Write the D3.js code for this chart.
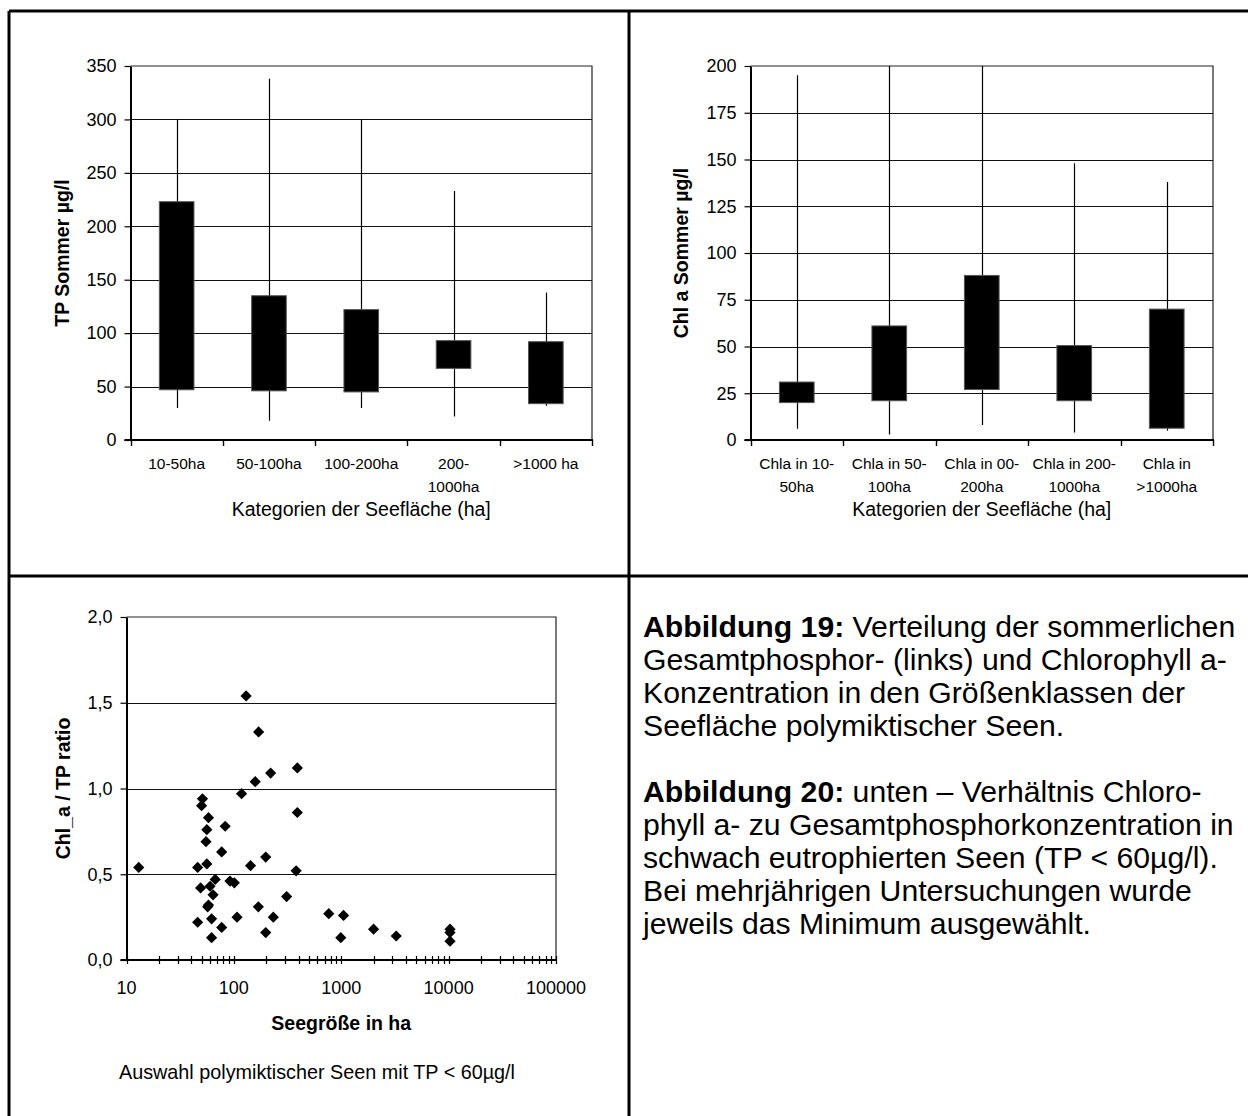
<!DOCTYPE html>
<html>
<head>
<meta charset="utf-8">
<script src="https://cdn.jsdelivr.net/npm/d3@7"></script>
<style>
  html, body { margin: 0; padding: 0; background: #fff; }
  svg { display: block; }
  text { font-family: "Liberation Sans", Arial, Helvetica, sans-serif; fill: #000; }
</style>
</head>
<body>
<svg id="fig" width="1248" height="1116"></svg>
<script>
// ---- Total phosphorus in summer by lake-area class (min / q1 / q3 / max) ----
const tpCategories = [["10-50ha"], ["50-100ha"], ["100-200ha"], ["200-", "1000ha"], [">1000 ha"]];
const tpMin = [30, 18, 30, 22, 32];
const tpQ1  = [47, 46, 45, 67, 34];
const tpQ3  = [223, 135, 122, 93, 92];
const tpMax = [300, 338, 300, 233, 138];
const tpTicks = [0, 50, 100, 150, 200, 250, 300, 350];

// ---- Chlorophyll a in summer by lake-area class ----
const chlCategories = [["Chla in 10-", "50ha"], ["Chla in 50-", "100ha"], ["Chla in 00-", "200ha"],
                       ["Chla in 200-", "1000ha"], ["Chla in", ">1000ha"]];
const chlMin = [6, 3, 8, 4, 5];
const chlQ1  = [20, 21, 27, 21, 6.3];
const chlQ3  = [31, 61, 88, 50.5, 70];
const chlMax = [195, 200, 200, 148, 138];
const chlTicks = [0, 25, 50, 75, 100, 125, 150, 175, 200];

// ---- Chl a / TP ratio against lake size (polymictic lakes, TP < 60 µg/l) ----
const lakeArea = [13, 130, 170, 390, 220, 158, 118, 51, 50, 58, 390, 83, 56, 55, 77, 198, 56, 143, 46, 380,
                  67, 92, 101, 49, 60, 64, 310, 58, 57, 169, 765, 1050, 107, 233, 62, 46, 77, 2000, 10300, 10300,
                  198, 3250, 62, 990, 10300];
const chlTpRatio = [0.54, 1.54, 1.33, 1.12, 1.09, 1.04, 0.97, 0.94, 0.90, 0.83, 0.86, 0.78, 0.76, 0.69, 0.63, 0.60, 0.56, 0.55, 0.54, 0.52,
                    0.47, 0.46, 0.45, 0.42, 0.43, 0.38, 0.37, 0.32, 0.31, 0.31, 0.27, 0.26, 0.25, 0.25, 0.24, 0.22, 0.19, 0.18, 0.18, 0.16,
                    0.16, 0.14, 0.13, 0.13, 0.11];
const ratioTicks = [0, 0.5, 1.0, 1.5, 2.0];
const areaTicks = [10, 100, 1000, 10000, 100000];

// ---- Caption text ----
const caption = [
  [["Abbildung 19:", true], [" Verteilung der sommerlichen", false]],
  [["Gesamtphosphor- (links) und Chlorophyll a-", false]],
  [["Konzentration in den Größenklassen der", false]],
  [["Seefläche polymiktischer Seen.", false]],
  [],
  [["Abbildung 20:", true], [" unten – Verhältnis Chloro-", false]],
  [["phyll a- zu Gesamtphosphorkonzentration in", false]],
  [["schwach eutrophierten Seen (TP < 60µg/l).", false]],
  [["Bei mehrjährigen Untersuchungen wurde", false]],
  [["jeweils das Minimum ausgewählt.", false]]
];

const svg = d3.select("#fig");

// Page frame and panel dividers
const frame = svg.append("g").attr("stroke", "#000").attr("stroke-width", 3);
frame.append("line").attr("x1", 9).attr("x2", 1248).attr("y1", 11).attr("y2", 11);
frame.append("line").attr("x1", 9).attr("x2", 9).attr("y1", 11).attr("y2", 1116);
frame.append("line").attr("x1", 629).attr("x2", 629).attr("y1", 11).attr("y2", 1116);
frame.append("line").attr("x1", 9).attr("x2", 1248).attr("y1", 576).attr("y2", 576);

// Range chart: whisker from min to max, black box from q1 to q3
function rangeChart(opt) {
  const g = svg.append("g");
  const x = d3.scaleBand().domain(d3.range(opt.labels.length)).range([opt.left, opt.right]);
  const y = d3.scaleLinear().domain([0, opt.yMax]).range([opt.bottom, opt.top]).clamp(true);

  // plot frame (top/right) and gridlines
  g.append("path")
    .attr("d", `M${opt.left},${opt.top}H${opt.right}V${opt.bottom}`)
    .attr("fill", "none").attr("stroke", "#222").attr("stroke-width", 1.2);
  g.selectAll("line.grid").data(opt.ticks.filter(t => t > 0 && t < opt.yMax)).join("line")
    .attr("class", "grid")
    .attr("x1", opt.left).attr("x2", opt.right)
    .attr("y1", d => Math.round(y(d)) + 0.5).attr("y2", d => Math.round(y(d)) + 0.5)
    .attr("stroke", "#111").attr("stroke-width", 1);

  // whiskers
  const idx = d3.range(opt.labels.length);
  g.selectAll("line.whisk").data(idx).join("line")
    .attr("class", "whisk")
    .attr("x1", i => Math.round(x(i) + x.bandwidth() / 2) + 0.5)
    .attr("x2", i => Math.round(x(i) + x.bandwidth() / 2) + 0.5)
    .attr("y1", i => y(opt.max[i])).attr("y2", i => y(opt.min[i]))
    .attr("stroke", "#000").attr("stroke-width", 1.2);

  // boxes
  const bw = x.bandwidth() * 0.375;
  g.selectAll("rect.box").data(idx).join("rect")
    .attr("class", "box")
    .attr("x", i => x(i) + x.bandwidth() / 2 - bw / 2)
    .attr("width", bw)
    .attr("y", i => y(opt.q3[i]))
    .attr("height", i => y(opt.q1[i]) - y(opt.q3[i]))
    .attr("fill", "#000").attr("stroke", "#555").attr("stroke-width", 1);

  // y axis
  const ya = g.append("g").attr("transform", `translate(${opt.left},0)`)
    .call(d3.axisLeft(y).tickValues(opt.ticks).tickSize(6).tickSizeOuter(0).tickPadding(8));
  ya.select(".domain").attr("stroke", "#000").attr("stroke-width", 2);
  ya.selectAll(".tick line").attr("stroke", "#000").attr("stroke-width", 1.2);
  ya.selectAll(".tick text").attr("font-size", 18).attr("font-family", null);

  // x axis with ticks on category boundaries
  g.append("line").attr("x1", opt.left - 6).attr("x2", opt.right + 1)
    .attr("y1", opt.bottom).attr("y2", opt.bottom)
    .attr("stroke", "#000").attr("stroke-width", 2);
  const bounds = idx.map(i => x(i)).concat([x.range()[1]]);
  g.selectAll("line.xt").data(bounds).join("line")
    .attr("class", "xt")
    .attr("x1", d => Math.round(d) + 0.5).attr("x2", d => Math.round(d) + 0.5)
    .attr("y1", opt.bottom).attr("y2", opt.bottom + 6)
    .attr("stroke", "#000").attr("stroke-width", 1.4);

  // category labels
  const lab = g.selectAll("text.cat").data(idx).join("text")
    .attr("class", "cat")
    .attr("text-anchor", "middle")
    .attr("font-size", 15.5);
  lab.each(function (i) {
    const t = d3.select(this);
    opt.labels[i].forEach((s, k) => {
      t.append("tspan").attr("x", x(i) + x.bandwidth() / 2).attr("y", 469 + k * 22.5).text(s);
    });
  });

  // axis titles
  g.append("text")
    .attr("x", (opt.left + opt.right) / 2).attr("y", 516)
    .attr("text-anchor", "middle").attr("font-size", 19.5)
    .text("Kategorien der Seefläche (ha]");
  g.append("text")
    .attr("transform", `translate(${opt.titleX},${(opt.top + opt.bottom) / 2}) rotate(-90)`)
    .attr("text-anchor", "middle").attr("font-size", 19.5).attr("font-weight", "bold")
    .text(opt.yTitle);
}

rangeChart({
  labels: tpCategories, min: tpMin, q1: tpQ1, q3: tpQ3, max: tpMax, ticks: tpTicks,
  yMax: 350, left: 130.5, right: 592, top: 66, bottom: 440, titleX: 69, yTitle: "TP Sommer µg/l"
});
rangeChart({
  labels: chlCategories, min: chlMin, q1: chlQ1, q3: chlQ3, max: chlMax, ticks: chlTicks,
  yMax: 200, left: 750.5, right: 1213, top: 66, bottom: 440, titleX: 688, yTitle: "Chl a Sommer µg/l"
});

// ---- Scatter: Chl a / TP ratio vs lake size (log axis) ----
(function () {
  const left = 126.5, right = 556, top = 617, bottom = 960;
  const g = svg.append("g");
  const x = d3.scaleLog().domain([10, 100000]).range([left, right]);
  const y = d3.scaleLinear().domain([0, 2]).range([bottom, top]);
  const fmt = v => d3.format(".1f")(v).replace(".", ",");

  g.append("path")
    .attr("d", `M${left},${top}H${right}V${bottom}`)
    .attr("fill", "none").attr("stroke", "#222").attr("stroke-width", 1.2);
  g.selectAll("line.grid").data(ratioTicks.filter(t => t > 0 && t < 2)).join("line")
    .attr("class", "grid")
    .attr("x1", left).attr("x2", right)
    .attr("y1", d => Math.round(y(d)) + 0.5).attr("y2", d => Math.round(y(d)) + 0.5)
    .attr("stroke", "#111").attr("stroke-width", 1);

  const ya = g.append("g").attr("transform", `translate(${left},0)`)
    .call(d3.axisLeft(y).tickValues(ratioTicks).tickFormat(fmt).tickSize(6).tickSizeOuter(0).tickPadding(8));
  ya.select(".domain").attr("stroke", "#000").attr("stroke-width", 2);
  ya.selectAll(".tick line").attr("stroke", "#000").attr("stroke-width", 1.2);
  ya.selectAll(".tick text").attr("font-size", 18).attr("font-family", null);

  // x axis: line plus cross-style major/minor log ticks
  g.append("line").attr("x1", left - 6).attr("x2", right + 1)
    .attr("y1", bottom).attr("y2", bottom).attr("stroke", "#000").attr("stroke-width", 2);
  g.selectAll("line.xt").data(x.ticks()).join("line")
    .attr("class", "xt")
    .attr("x1", d => Math.round(x(d)) + 0.5).attr("x2", d => Math.round(x(d)) + 0.5)
    .attr("y1", bottom - 4).attr("y2", bottom + 4)
    .attr("stroke", "#000").attr("stroke-width", 1.2);
  g.selectAll("text.xl").data(areaTicks).join("text")
    .attr("class", "xl")
    .attr("x", d => x(d)).attr("y", 994)
    .attr("text-anchor", "middle").attr("font-size", 18)
    .text(d => String(d));

  // diamonds
  const diamond = d3.symbol().type(d3.symbolDiamond2).size(80);
  g.selectAll("path.pt").data(d3.range(lakeArea.length)).join("path")
    .attr("class", "pt")
    .attr("transform", i => `translate(${x(lakeArea[i])},${y(chlTpRatio[i])})`)
    .attr("d", diamond)
    .attr("fill", "#000");

  g.append("text")
    .attr("x", (left + right) / 2).attr("y", 1030)
    .attr("text-anchor", "middle").attr("font-size", 19.5).attr("font-weight", "bold")
    .text("Seegröße in ha");
  g.append("text")
    .attr("transform", `translate(70,${(top + bottom) / 2}) rotate(-90)`)
    .attr("text-anchor", "middle").attr("font-size", 19.5).attr("font-weight", "bold")
    .text("Chl_a / TP ratio");
  g.append("text")
    .attr("x", 317).attr("y", 1079)
    .attr("text-anchor", "middle").attr("font-size", 19.8)
    .text("Auswahl polymiktischer Seen mit TP < 60µg/l");
})();

// ---- Caption block ----
const cap = svg.append("g");
caption.forEach((parts, k) => {
  if (!parts.length) return;
  const t = cap.append("text").attr("x", 643).attr("y", 636.5 + k * 33).attr("font-size", 30.2);
  parts.forEach(([s, bold]) => {
    t.append("tspan").attr("font-weight", bold ? "bold" : null).text(s);
  });
});
</script>
</body>
</html>
